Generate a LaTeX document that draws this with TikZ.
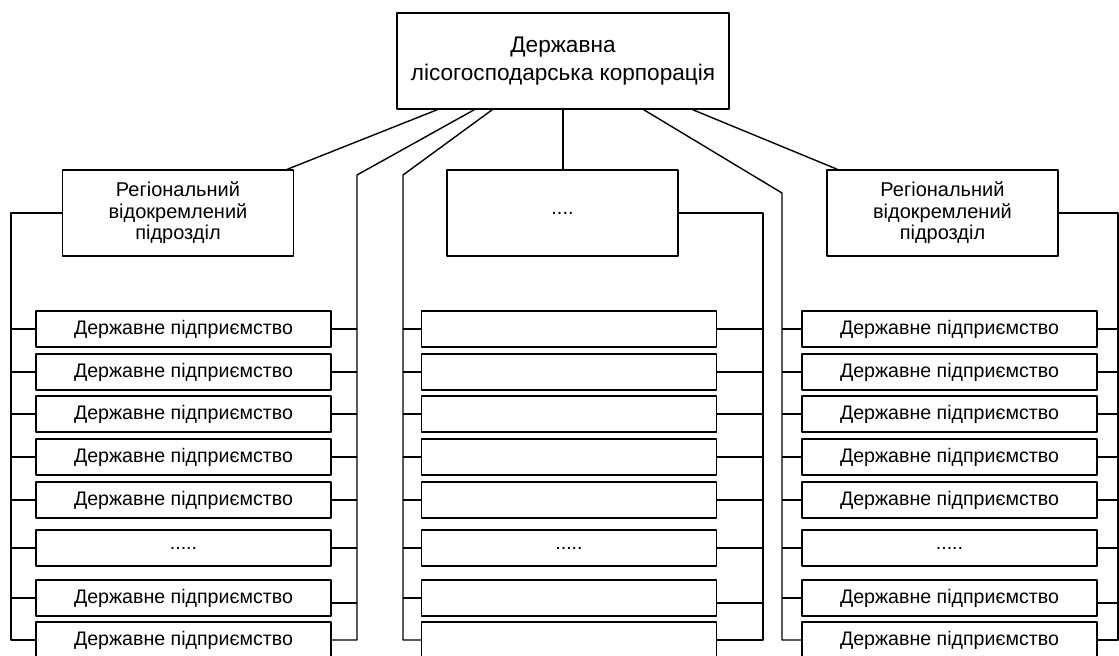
\documentclass[tikz,border=0pt]{standalone}
\usepackage{fontspec}
\setmainfont{Liberation Sans}
\usepackage{tikz}

\newcommand{\unitgap}{.....}
\tikzset{
  corp/.style={draw,line width=0.7pt,minimum width=166pt,minimum height=48pt,inner sep=0pt,align=center,font=\fontsize{11.3}{14}\selectfont},
  branch/.style={draw,line width=0.7pt,minimum width=115.5pt,minimum height=43pt,inner sep=0pt,align=center,font=\fontsize{10}{10.8}\selectfont},
  unit/.style={draw,line width=0.7pt,minimum width=147.5pt,minimum height=18pt,inner sep=0pt,font=\fontsize{9.8}{11}\selectfont}
}

\begin{document}
\begin{tikzpicture}[x=0.5pt,y=-0.5pt,line join=round,line width=0.7pt]
\useasboundingbox (0,0) rectangle (1119,655);
\clip (0,0) rectangle (1119,655);

% top and branches
\node[corp] (corp) at (563,61) {Державна\\лісогосподарська корпорація};
\node[branch] (reg1) at (178,213) {Регіональний\\відокремлений\\підрозділ};
\node[branch] (mid) at (562.5,213) {....};
\node[branch] (reg3) at (942.5,213) {Регіональний\\відокремлений\\підрозділ};

% enterprises
\foreach \y/\t [count=\i] in {329/Державне підприємство,372/Державне підприємство,414/Державне підприємство,457/Державне підприємство,500/Державне підприємство,548/\unitgap,598/Державне підприємство,640/Державне підприємство}{
  \node[unit] (a\i) at (183.5,\y) {\t};
  \node[unit] (c\i) at (949.5,\y) {\t};
}
\foreach \y [count=\i] in {329,372,414,457,500,548,598,640}
  \node[unit] (b\i) at (569,\y) {};
\node[font=\fontsize{9.8}{11}\selectfont] (bgap) at (b6) {\unitgap};

% bus corners
\coordinate (busAl) at (11,213);
\coordinate (busAr) at (357,175);
\coordinate (busBl) at (403,175);
\coordinate (busBr) at (763,213);
\coordinate (busCl) at (782,193);
\coordinate (busCr) at (1118,213);

% links from the corporation
\draw ([xshift=20.5pt]corp.south west)--([xshift=-3.5pt]reg1.north east);
\draw ([xshift=39pt]corp.south west)--(busAr)--(busAr |- a8.east)--(a8.east);
\draw ([xshift=48pt]corp.south west)--(busBl)--(busBl |- b8.west)--(b8.west);
\draw (corp.south)--(corp.south |- mid.north);
\draw ([xshift=-43pt]corp.south east)--(busCl)--(busCl |- c8.west)--(c8.west);
\draw ([xshift=-18.5pt]corp.south east)--([xshift=5.5pt]reg3.north west);

% buses from the branches
\draw (reg1.west)--(busAl)--(busAl |- a8.west)--(a8.west);
\draw (mid.east)--(busBr)--(busBr |- b8.east)--(b8.east);
\draw (reg3.east)--(busCr)--(busCr |- c8.east)--(c8.east);

% ticks
\foreach \i in {1,2,3,4,5,6,7}{
  \draw (a\i.west)--(a\i.west -| busAl);
  \draw (b\i.west)--(b\i.west -| busBl);
  \draw (c\i.west)--(c\i.west -| busCl);
}
\foreach \i in {1,2,3,4,5,6}{
  \draw (a\i.east)--(a\i.east -| busAr);
  \draw (b\i.east)--(b\i.east -| busBr);
  \draw (c\i.east)--(c\i.east -| busCr);
}
\draw ([yshift=-2.5pt]a7.east)--([yshift=-2.5pt]a7.east -| busAr);
\draw ([yshift=-2.5pt]b7.east)--([yshift=-2.5pt]b7.east -| busBr);
\draw ([yshift=-2.5pt]c7.east)--([yshift=-2.5pt]c7.east -| busCr);
\end{tikzpicture}
\end{document}
